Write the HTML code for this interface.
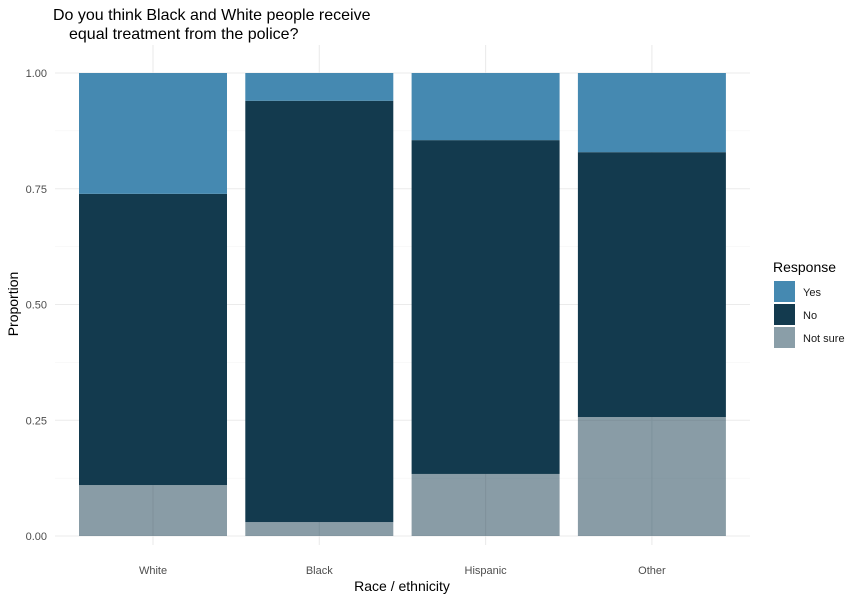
<!DOCTYPE html>
<html><head><meta charset="utf-8"><style>
body{margin:0;background:#fff;font-family:"Liberation Sans",sans-serif;}
</style></head><body>
<svg id="chart" width="862" height="601" xmlns="http://www.w3.org/2000/svg" font-family="Liberation Sans, sans-serif">
<text x="53" y="20" font-size="16" fill="#000">Do you think Black and White people receive</text>
<text x="69" y="39" font-size="16" fill="#000">equal treatment from the police?</text>
<g id="grid"></g>
<g id="bars"></g>
<g id="axes"></g>
<text x="0" y="0" transform="translate(18,304) rotate(-90)" text-anchor="middle" font-size="14">Proportion</text>
<text x="402" y="591" text-anchor="middle" font-size="14">Race / ethnicity</text>
<g>
<text x="773" y="272" font-size="14">Response</text>
<rect x="774" y="281" width="21" height="21" fill="#4589b1"/>
<text x="803" y="296" font-size="11" fill="#1a1a1a">Yes</text>
<rect x="774" y="304" width="21" height="21" fill="#133a4e"/>
<text x="803" y="319" font-size="11" fill="#1a1a1a">No</text>
<rect x="774" y="327" width="21" height="21" fill="#8a9ea8"/>
<text x="803" y="342" font-size="11" fill="#1a1a1a">Not sure</text>
</g>
</svg>
<script>
const categories = ["White","Black","Hispanic","Other"];
const notSure = [0.110,0.030,0.134,0.257];
const no = [0.629,0.910,0.721,0.572];
const yes = [0.261,0.060,0.145,0.171];
const yTicks = [0,0.25,0.5,0.75,1.0];
const yTickLabels = ["0.00","0.25","0.50","0.75","1.00"];

const NS="http://www.w3.org/2000/svg";
const y0=536,y1=73;
function yScale(v){return y0-(y0-y1)*v;}
const step=166.3, xStart=153;
function xScale(i){return xStart+i*step;}
const bw=148, left=55, right=750;
const grid=document.getElementById('grid'), bars=document.getElementById('bars'), axes=document.getElementById('axes');
function mk(tag,attrs,parent){const e=document.createElementNS(NS,tag);for(const k in attrs)e.setAttribute(k,attrs[k]);parent.appendChild(e);return e;}
for(let i=0;i<yTicks.length;i++){
  const g=mk('line',{x1:left,x2:right,y1:yScale(yTicks[i]),y2:yScale(yTicks[i]),stroke:'#ebebeb','stroke-width':1.1},grid);
  
  
  if(i<yTicks.length-1){
    const m=mk('line',{x1:left,x2:right,y1:yScale((yTicks[i]+yTicks[i+1])/2),y2:yScale((yTicks[i]+yTicks[i+1])/2),stroke:'#f3f3f3','stroke-width':0.6},grid);
    
    
  }
  const t=mk('text',{x:47,y:yScale(yTicks[i])+4,'text-anchor':'end','font-size':11,fill:'#4d4d4d'},axes);
  t.textContent=yTickLabels[i];
  
  
}
categories.forEach((c,i)=>{
  const g=mk('line',{x1:xScale(i),x2:xScale(i),y1:45,y2:545,stroke:'#ebebeb','stroke-width':1.1},grid);
  
  
  const x=xScale(i)-bw/2;
  const a=notSure[i], b=a+no[i], t=b+yes[i];
  const r1=mk('rect',{x:x,y:yScale(a),width:bw,height:yScale(0)-yScale(a),fill:'#133a4e','fill-opacity':0.5},bars);
  
  
  const r2=mk('rect',{x:x,y:yScale(b),width:bw,height:yScale(a)-yScale(b),fill:'#133a4e'},bars);
  
  
  const r3=mk('rect',{x:x,y:yScale(t),width:bw,height:yScale(b)-yScale(t),fill:'#4589b1'},bars);
  
  
  const lbl=mk('text',{x:xScale(i),y:574,'text-anchor':'middle','font-size':11,fill:'#4d4d4d'},axes);
  lbl.textContent=c;
  
  
});
</script>
</body></html>
